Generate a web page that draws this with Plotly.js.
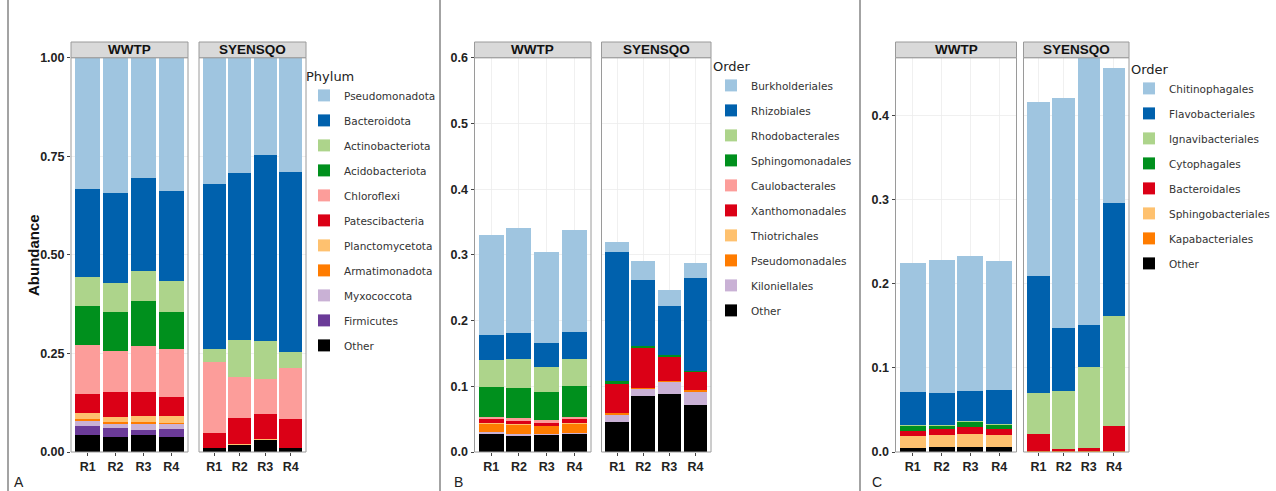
<!DOCTYPE html>
<html><head><meta charset="utf-8">
<script src="https://cdn.plot.ly/plotly-3.0.1.min.js"></script>
<style>html,body{margin:0;padding:0;background:#fff}#chart{width:1276px;height:491px}</style>
</head><body><div id="chart"></div>
<script>
// ---------- DATA ----------
const reps = ['R1', 'R2', 'R3', 'R4'];
const sites = ['WWTP', 'SYENSQO'];

// Panel A – Phylum (legend order, top of stack first)
const phylumNames = ['Pseudomonadota', 'Bacteroidota', 'Actinobacteriota', 'Acidobacteriota', 'Chloroflexi',
  'Patescibacteria', 'Planctomycetota', 'Armatimonadota', 'Myxococcota', 'Firmicutes', 'Other'];
const phylumWWTP = [
  [0.332, 0.343, 0.305, 0.339],
  [0.225, 0.228, 0.234, 0.228],
  [0.073, 0.075, 0.076, 0.078],
  [0.098, 0.097, 0.115, 0.095],
  [0.124, 0.106, 0.116, 0.120],
  [0.048, 0.062, 0.062, 0.049],
  [0.017, 0.013, 0.016, 0.017],
  [0.005, 0.004, 0.004, 0.004],
  [0.013, 0.011, 0.014, 0.012],
  [0.021, 0.024, 0.015, 0.020],
  [0.044, 0.037, 0.042, 0.038]
];
const phylumSYENSQO = [
  [0.320, 0.292, 0.247, 0.289],
  [0.418, 0.423, 0.471, 0.458],
  [0.035, 0.095, 0.098, 0.039],
  [0.000, 0.000, 0.000, 0.000],
  [0.178, 0.105, 0.088, 0.131],
  [0.039, 0.064, 0.063, 0.072],
  [0.001, 0.002, 0.002, 0.001],
  [0.000, 0.000, 0.000, 0.000],
  [0.000, 0.000, 0.000, 0.000],
  [0.000, 0.000, 0.000, 0.000],
  [0.009, 0.019, 0.031, 0.010]
];

// Panel B – Order (Pseudomonadota)
const orderBNames = ['Burkholderiales', 'Rhizobiales', 'Rhodobacterales', 'Sphingomonadales', 'Caulobacterales',
  'Xanthomonadales', 'Thiotrichales', 'Pseudomonadales', 'Kiloniellales', 'Other'];
const orderBWWTP = [
  [0.152, 0.160, 0.138, 0.156],
  [0.038, 0.040, 0.037, 0.041],
  [0.041, 0.043, 0.038, 0.041],
  [0.045, 0.047, 0.043, 0.046],
  [0.004, 0.004, 0.004, 0.004],
  [0.006, 0.005, 0.004, 0.006],
  [0.001, 0.001, 0.001, 0.001],
  [0.013, 0.014, 0.011, 0.014],
  [0.002, 0.002, 0.002, 0.001],
  [0.028, 0.025, 0.026, 0.028]
];
const orderBSYENSQO = [
  [0.015, 0.030, 0.025, 0.022],
  [0.196, 0.099, 0.075, 0.141],
  [0.000, 0.000, 0.000, 0.000],
  [0.005, 0.003, 0.003, 0.003],
  [0.000, 0.000, 0.000, 0.000],
  [0.044, 0.061, 0.036, 0.026],
  [0.000, 0.000, 0.000, 0.000],
  [0.003, 0.002, 0.001, 0.003],
  [0.010, 0.011, 0.019, 0.020],
  [0.046, 0.085, 0.088, 0.072]
];

// Panel C – Order (Bacteroidota)
const orderCNames = ['Chitinophagales', 'Flavobacteriales', 'Ignavibacteriales', 'Cytophagales', 'Bacteroidales',
  'Sphingobacteriales', 'Kapabacteriales', 'Other'];
const orderCWWTP = [
  [0.1540, 0.1570, 0.1600, 0.1535],
  [0.0390, 0.0390, 0.0360, 0.0404],
  [0.0012, 0.0008, 0.0016, 0.0012],
  [0.0056, 0.0039, 0.0059, 0.0051],
  [0.0063, 0.0068, 0.0080, 0.0064],
  [0.0134, 0.0143, 0.0155, 0.0143],
  [0.0003, 0.0003, 0.0003, 0.0003],
  [0.0050, 0.0055, 0.0055, 0.0060]
];
const orderCSYENSQO = [
  [0.2071, 0.2737, 0.3175, 0.1608],
  [0.1386, 0.0756, 0.0495, 0.1346],
  [0.0483, 0.0687, 0.0966, 0.1307],
  [0.0000, 0.0000, 0.0000, 0.0000],
  [0.0210, 0.0025, 0.0036, 0.0297],
  [0.0000, 0.0000, 0.0000, 0.0000],
  [0.0008, 0.0007, 0.0008, 0.0008],
  [0.0000, 0.0000, 0.0000, 0.0000]
];

const paletteA = ['#9fc5e0', '#0061ad', '#add48b', '#00901d', '#fc9d9a', '#db0016', '#fec16f', '#ff7c00', '#c9b1d5', '#6b3b98', '#000000'];
const paletteB = ['#9fc5e0', '#0061ad', '#add48b', '#00901d', '#fc9d9a', '#db0016', '#fec16f', '#ff7c00', '#c9b1d5', '#000000'];
const paletteC = ['#9fc5e0', '#0061ad', '#add48b', '#00901d', '#db0016', '#fec16f', '#ff7c00', '#000000'];

// ---------- LAYOUT HELPERS ----------
const W = 1276, H = 491;
const X = px => px / W;
const Y = py => 1 - py / H;
const yTop = 57.7, yBot = 452;
const stripTop = 42;

const panels = [
  { names: phylumNames, w: phylumWWTP, s: phylumSYENSQO, col: paletteA, xa: 'x', xb: 'x2', y: 'y', leg: 'legend',
    dom: [[71, 188], [199, 306]], range: [0, 1], tickvals: [0, 0.25, 0.5, 0.75, 1], fmt: '.2f' },
  { names: orderBNames, w: orderBWWTP, s: orderBSYENSQO, col: paletteB, xa: 'x3', xb: 'x4', y: 'y2', leg: 'legend2',
    dom: [[474.5, 591], [601.5, 711]], range: [0, 0.6], tickvals: [0, 0.1, 0.2, 0.3, 0.4, 0.5, 0.6], fmt: '.1f' },
  { names: orderCNames, w: orderCWWTP, s: orderCSYENSQO, col: paletteC, xa: 'x5', xb: 'x6', y: 'y3', leg: 'legend3',
    dom: [[895.5, 1016.5], [1023.5, 1129]], range: [0, 0.4685], tickvals: [0, 0.1, 0.2, 0.3, 0.4], fmt: '.1f' }
];

const traces = [];
panels.forEach((p, pi) => {
  for (let i = p.names.length - 1; i >= 0; i--) {
    const grp = 'p' + pi + '_' + p.names[i];
    traces.push({ type: 'bar', x: reps, y: p.w[i], name: p.names[i], xaxis: p.xa, yaxis: p.y,
      marker: { color: p.col[i], line: { width: 0 } }, legend: p.leg, legendgroup: grp, legendrank: 100 + i,
      showlegend: true, hoverinfo: 'skip' });
    traces.push({ type: 'bar', x: reps, y: p.s[i], name: p.names[i], xaxis: p.xb, yaxis: p.y,
      marker: { color: p.col[i], line: { width: 0 } }, legend: p.leg, legendgroup: grp, legendrank: 100 + i,
      showlegend: false, hoverinfo: 'skip' });
  }
});

const tickFont = { family: 'Liberation Sans, Arial, sans-serif', size: 12.5, color: '#222', weight: 700 };
const layout = {
  width: W, height: H, margin: { l: 0, r: 0, t: 0, b: 0 },
  paper_bgcolor: '#fff', plot_bgcolor: '#fff',
  barmode: 'stack', bargap: 0.1, showlegend: true,
  shapes: [], annotations: []
};

panels.forEach((p, pi) => {
  const yname = pi === 0 ? 'yaxis' : 'yaxis' + (pi + 1);
  const xnames = [p.xa, p.xb];
  xnames.forEach((xa, k) => {
    const key = xa === 'x' ? 'xaxis' : 'xaxis' + xa.slice(1);
    layout[key] = {
      domain: [X(p.dom[k][0]), X(p.dom[k][1])], anchor: p.y, type: 'category',
      categoryorder: 'array', categoryarray: reps, range: [-0.6, 3.6],
      showgrid: true, gridcolor: '#ececec', gridwidth: 0.8, zeroline: false, showline: false,
      ticks: 'outside', ticklen: 3, tickwidth: 1, tickcolor: '#444', tickfont: tickFont, fixedrange: true
    };
    // panel border
    layout.shapes.push({ type: 'rect', xref: 'paper', yref: 'paper', x0: X(p.dom[k][0]), x1: X(p.dom[k][1]),
      y0: Y(yBot), y1: Y(yTop), line: { color: '#9a9a9a', width: 1 }, layer: 'above' });
    // strip
    layout.shapes.push({ type: 'rect', xref: 'paper', yref: 'paper', x0: X(p.dom[k][0]), x1: X(p.dom[k][1]),
      y0: Y(yTop), y1: Y(stripTop), fillcolor: '#d9d9d9', line: { color: '#9a9a9a', width: 1 }, layer: 'above' });
    layout.annotations.push({ xref: 'paper', yref: 'paper', x: X((p.dom[k][0] + p.dom[k][1]) / 2), y: Y((yTop + stripTop) / 2),
      text: sites[k], showarrow: false, xanchor: 'center', yanchor: 'middle',
      font: { family: 'Liberation Sans, Arial, sans-serif', size: 13.5, color: '#111', weight: 700 } });
  });
  layout[yname] = {
    domain: [Y(yBot), Y(yTop)], anchor: p.xa, range: p.range, tickvals: p.tickvals, tickformat: p.fmt,
    showgrid: true, gridcolor: '#ececec', gridwidth: 0.8, zeroline: false, showline: false,
    ticks: 'outside', ticklen: 3, tickwidth: 1, tickcolor: '#444', tickfont: tickFont, fixedrange: true
  };
});

const legFont = { family: 'DejaVu Sans, Verdana, sans-serif', size: 10.5, color: '#333' };
const legTitleFont = { family: 'DejaVu Sans, sans-serif', size: 13, color: '#222' };
const legCommon = { font: legFont, bgcolor: 'rgba(0,0,0,0)', traceorder: 'grouped', tracegroupgap: 6,
  xanchor: 'left', yanchor: 'top', itemclick: false, itemdoubleclick: false };
layout.legend = Object.assign({}, legCommon, { x: X(304), y: Y(64), title: { text: 'Phylum', font: legTitleFont } });
layout.legend2 = Object.assign({}, legCommon, { x: X(711), y: Y(54), title: { text: 'Order', font: legTitleFont } });
layout.legend3 = Object.assign({}, legCommon, { x: X(1129), y: Y(57), title: { text: 'Order', font: legTitleFont } });

// separators
[8, 440, 860].forEach(px => layout.shapes.push({ type: 'line', xref: 'paper', yref: 'paper', x0: X(px), x1: X(px), y0: 0, y1: 1,
  line: { color: '#666', width: 1.2 } }));

// y title and panel letters
layout.annotations.push({ xref: 'paper', yref: 'paper', x: X(33), y: Y(255), text: 'Abundance', textangle: -90, showarrow: false,
  xanchor: 'center', yanchor: 'middle', font: { family: 'Liberation Sans, Arial, sans-serif', size: 15, color: '#111', weight: 700 } });
[['A', 12], ['B', 452], ['C', 870]].forEach(([t, px]) => layout.annotations.push({ xref: 'paper', yref: 'paper', x: X(px), y: Y(482),
  text: t, showarrow: false, xanchor: 'left', yanchor: 'middle', font: { family: 'Liberation Sans, Arial, sans-serif', size: 14, color: '#222' } }));

Plotly.newPlot('chart', traces, layout, { staticPlot: true, displayModeBar: false });
</script>
</body></html>
